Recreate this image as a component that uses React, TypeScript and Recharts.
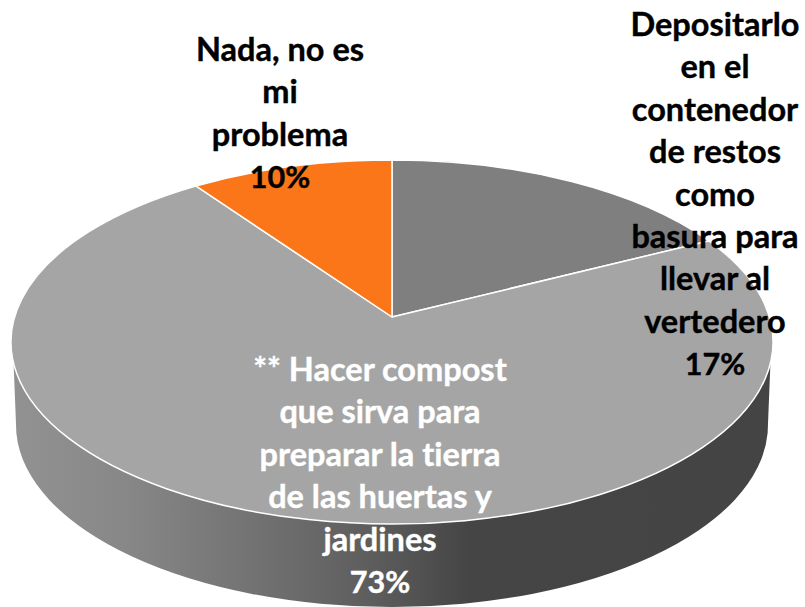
import React from 'react'
import { PieChart, Pie, Cell } from 'recharts'

const categories = [
  'Depositarlo en el contenedor de restos como basura para llevar al vertedero',
  '** Hacer compost que sirva para preparar la tierra de las huertas y jardines',
  'Nada, no es mi problema',
]
const values = [17, 73, 10]
const labelLines = [
  ['Depositarlo', 'en el', 'contenedor', 'de restos', 'como', 'basura para', 'llevar al', 'vertedero'],
  ['** Hacer compost', 'que sirva para', 'preparar la tierra', 'de las huertas y', 'jardines'],
  ['Nada, no es', 'mi', 'problema'],
]
const sliceColors = ['#7f7f7f', '#a5a5a5', '#fa7619']
const labelColors = ['#000000', '#ffffff', '#000000']

const tableData = categories.map((name, i) => ({ name, value: values[i] }))

// the 3d look: the top face is an ellipse whose centre sits below the pie's apex
const FACE = { dy: 25, rx: 381, ry: 182, squash: 0.4715, tilt: 0.019 }
const WALL = { dy: 108, rx: 376, ry: 182, topT: 0.116, bottomT: 0.044 }
const LABEL_POS = [
  { x: 715, y: 36 },
  { x: 380, y: 381 },
  { x: 280, y: 61 },
]
const LINE_H = 42.4

// rim point for a pie angle (degrees, recharts convention), shot from the apex
function rimPoint(cx: number, cy: number, angle: number) {
  const th = ((90 - angle) * Math.PI) / 180
  const dx = Math.sin(th)
  const dy = -FACE.squash * Math.cos(th) + FACE.tilt * Math.sin(th)
  const oy = -FACE.dy
  const a = (dx * dx) / (FACE.rx * FACE.rx) + (dy * dy) / (FACE.ry * FACE.ry)
  const b = (2 * oy * dy) / (FACE.ry * FACE.ry)
  const c = (oy * oy) / (FACE.ry * FACE.ry) - 1
  const t = (-b + Math.sqrt(b * b - 4 * a * c)) / (2 * a)
  return { x: cx + dx * t, y: cy + dy * t }
}

function TopSlice(props: any) {
  const { cx, cy, startAngle, endAngle, fill } = props
  const p0 = rimPoint(cx, cy, startAngle)
  const p1 = rimPoint(cx, cy, endAngle)
  const large = Math.abs(startAngle - endAngle) > 150 ? 1 : 0
  const d = `M${cx},${cy} L${p0.x},${p0.y} A${FACE.rx},${FACE.ry} 0 ${large} 1 ${p1.x},${p1.y} Z`
  return <path d={d} fill={fill} stroke="#ffffff" strokeWidth={1.5} strokeLinejoin="round" />
}

// only the slice that faces the viewer shows its wall
function WallSlice(props: any) {
  const { cx, cy, startAngle, endAngle } = props
  if (Math.abs(startAngle - endAngle) < 180) return <g />
  const topY = cy + FACE.dy
  const botY = cy + WALL.dy
  const tx = FACE.rx * Math.cos(WALL.topT)
  const ty = FACE.ry * Math.sin(WALL.topT)
  const bx = WALL.rx * Math.cos(WALL.bottomT)
  const by = WALL.ry * Math.sin(WALL.bottomT)
  const d =
    `M${cx + tx},${topY + ty} A${FACE.rx},${FACE.ry} 0 0 1 ${cx - tx},${topY + ty} ` +
    `L${cx - bx},${botY + by} A${WALL.rx},${WALL.ry} 0 0 0 ${cx + bx},${botY + by} Z`
  return <path d={d} fill="url(#wallGrad)" />
}

function sliceLabel(props: any) {
  const { index } = props
  const pos = LABEL_POS[index]
  const lines = labelLines[index]
  return (
    <text
      key={index}
      x={pos.x}
      y={pos.y}
      textAnchor="middle"
      fill={labelColors[index]}
      stroke={labelColors[index]}
      strokeWidth={0.4}
      fontFamily="Lato, sans-serif"
      fontWeight={700}
      fontSize={32.5}
      style={{ fontVariantLigatures: 'none' }}
    >
      {lines.map((l, i) => (
        <tspan key={i} x={pos.x} y={pos.y + i * LINE_H}>{l}</tspan>
      ))}
      <tspan x={pos.x} y={pos.y + lines.length * LINE_H} fontSize={30.5}>{values[index] + '%'}</tspan>
    </text>
  )
}

export default function App() {
  return (
    <div style={{ position: 'absolute', left: 0, top: 0, width: 805, height: 607, overflow: 'hidden', background: '#fff' }}>
      <PieChart width={805} height={607} margin={{ top: 0, right: 0, bottom: 0, left: 0 }}>
        <defs>
          <linearGradient id="wallGrad" x1="0" y1="0" x2="1" y2="0">
            <stop offset="0" stopColor="#929292" />
            <stop offset="0.15" stopColor="#878787" />
            <stop offset="0.32" stopColor="#727272" />
            <stop offset="0.48" stopColor="#5c5c5c" />
            <stop offset="0.6" stopColor="#454545" />
            <stop offset="1" stopColor="#444444" />
          </linearGradient>
        </defs>
        <Pie
          data={tableData}
          dataKey="value"
          cx={392}
          cy={317}
          outerRadius={381}
          startAngle={90}
          endAngle={-270}
          stroke="none"
          shape={WallSlice}
          isAnimationActive={false}
        />
        <Pie
          data={tableData}
          dataKey="value"
          cx={392}
          cy={317}
          outerRadius={381}
          startAngle={90}
          endAngle={-270}
          shape={TopSlice}
          label={sliceLabel}
          labelLine={false}
          isAnimationActive={false}
        >
          {tableData.map((d, i) => (
            <Cell key={d.name} fill={sliceColors[i]} />
          ))}
        </Pie>
      </PieChart>
    </div>
  )
}
